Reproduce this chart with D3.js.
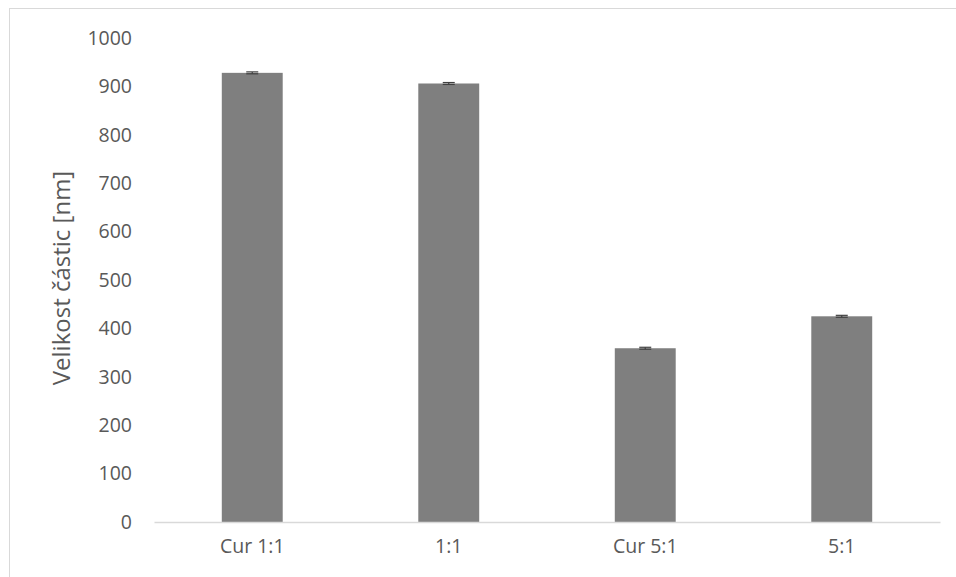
<!DOCTYPE html>
<html>
<head>
<meta charset="utf-8">
<script src="https://cdn.jsdelivr.net/npm/d3@7"></script>
<style>
  html, body { margin: 0; padding: 0; background: #ffffff; }
  svg { display: block; }
  text { font-family: "Open Sans", "Liberation Sans", sans-serif; fill: #595959; }
</style>
</head>
<body>
<svg id="chart" width="956" height="577"></svg>
<script>
// Particle size per sample
const categories = ["Cur 1:1", "1:1", "Cur 5:1", "5:1"];
const values = [928, 906, 359, 425];
const errors = [2, 2, 2, 2];
const yTicks = [0, 100, 200, 300, 400, 500, 600, 700, 800, 900, 1000];
const yLabel = "Velikost částic [nm]";

const svg = d3.select("#chart");
const W = 956, H = 577;
const margin = { left: 154, right: 16, top: 38, bottom: 55 };
const fontStack = '"Open Sans", "Liberation Sans", sans-serif';

// frame around the chart area
svg.append("rect")
  .attr("x", 9.5).attr("y", 8.5)
  .attr("width", W + 10).attr("height", H + 10)
  .attr("fill", "none").attr("stroke", "#d9d9d9").attr("stroke-width", 1);

const x = d3.scaleBand()
  .domain(categories)
  .range([margin.left, W - margin.right])
  .paddingInner(0.69)
  .paddingOuter(0.345);

const y = d3.scaleLinear()
  .domain([0, 1000])
  .range([H - margin.bottom, margin.top]);

// y tick labels (no axis line, no gridlines)
const yAxis = d3.axisLeft(y).tickValues(yTicks).tickFormat(d3.format("d")).tickSize(0).tickPadding(0);
const gy = svg.append("g").attr("transform", "translate(132,0)").call(yAxis);
gy.select(".domain").remove();
gy.selectAll("text").attr("font-size", 19.5).attr("fill", "#595959")
  .style("font-family", fontStack);

// bars
svg.append("g").selectAll("rect")
  .data(categories)
  .join("rect")
  .attr("x", d => x(d))
  .attr("width", x.bandwidth())
  .attr("y", (d, i) => y(values[i]))
  .attr("height", (d, i) => y(0) - y(values[i]))
  .attr("fill", "#7f7f7f");

// error bars
const eb = svg.append("g").attr("stroke", "#404040").attr("stroke-width", 1.2);
categories.forEach((c, i) => {
  const cx = x(c) + x.bandwidth() / 2;
  const hi = y(values[i] + errors[i]), lo = y(values[i] - errors[i]);
  eb.append("line").attr("x1", cx).attr("x2", cx).attr("y1", hi).attr("y2", lo);
  eb.append("line").attr("x1", cx - 6).attr("x2", cx + 6).attr("y1", hi).attr("y2", hi);
  eb.append("line").attr("x1", cx - 6).attr("x2", cx + 6).attr("y1", lo).attr("y2", lo);
});

// x axis baseline and category labels
const xAxis = d3.axisBottom(x).tickSize(0).tickPadding(24);
const gx = svg.append("g").attr("transform", `translate(0,${y(0)})`).call(xAxis);
gx.select(".domain").attr("stroke", "#d9d9d9").attr("stroke-width", 1.5);
gx.selectAll("text").attr("font-size", 19.5).attr("fill", "#595959")
  .attr("dy", "0.36em")
  .style("font-family", fontStack);

// y axis title
svg.append("text")
  .attr("transform", `translate(70,${(y(0) + y(1000)) / 2 - 2}) rotate(-90)`)
  .attr("text-anchor", "middle")
  .attr("font-size", 24)
  .style("font-family", fontStack)
  .text(yLabel);
</script>
</body>
</html>
